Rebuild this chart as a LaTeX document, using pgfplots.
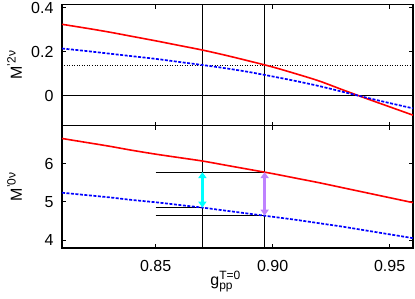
\documentclass[border=0pt]{standalone}
\usepackage{fontspec}
\setmainfont{Liberation Sans}
\usepackage{pgfplots}
\pgfplotsset{compat=1.18}
\usetikzlibrary{arrows.meta}
\definecolor{myviolet}{RGB}{190,130,255}
\definecolor{mycyan}{RGB}{0,255,255}

\pgfplotstableread{
x     r2     b2     r0    b0
0.81  0.325  0.215  6.66  5.24
0.82  0.308  0.204  6.56  5.18
0.83  0.290  0.192  6.46  5.12
0.84  0.270  0.180  6.35  5.05
0.85  0.250  0.168  6.25  4.99
0.86  0.229  0.154  6.16  4.92
0.87  0.208  0.140  6.07  4.85
0.88  0.184  0.125  5.96  4.77
0.89  0.158  0.108  5.85  4.69
0.90  0.131  0.088  5.74  4.61
0.91  0.100  0.067  5.62  4.53
0.92  0.067  0.044  5.50  4.44
0.93  0.027  0.018  5.37  4.35
0.94  -0.012 -0.008 5.24  4.25
0.95  -0.050 -0.033 5.11  4.15
0.96  -0.088 -0.057 4.98  4.05
}\datatable

\pgfplotsset{
 myaxis/.style={
  scale only axis, width=351pt, xmin=0.81, xmax=0.96,
  xtick={0.85,0.9,0.95},
  axis line style={line width=1.6pt},
  major tick style={line width=1pt, black},
  major tick length=4pt,
  tick align=inside,
  xtick pos=both, ytick pos=both,
  no markers,
  /pgf/number format/assume math mode=true,
  tick label style={font=\fontsize{16}{19}\selectfont},
  label style={font=\fontsize{16}{19}\selectfont},
  yticklabel style={xshift=-5pt},
 },
 red line/.style={color=red, line width=1.6pt, smooth},
 blue line/.style={color=blue, line width=1.7pt, smooth, dash pattern=on 3pt off 1.5pt},
 thin line/.style={black, line width=1.1pt},
}

\begin{document}
\begin{tikzpicture}
\path[use as bounding box] (0pt,0pt) rectangle (415pt,298pt);
\begin{axis}[myaxis, at={(62pt,172.5pt)}, anchor=south west, height=121pt,
  ymin=-0.135, ymax=0.415, ytick={0,0.2,0.4}, xticklabels={\mbox{},\mbox{},\mbox{}},
  ylabel={M\textsuperscript{\fontsize{12}{12}\selectfont '2ν}},
  ylabel style={at={(axis description cs:-0.114,0.5)}, anchor=base}]
\addplot[thin line] coordinates {(0.81,0) (0.96,0)};
\addplot[black, line width=1pt, dash pattern=on 1pt off 1.5pt] coordinates {(0.81,0.136) (0.96,0.136)};
\addplot[thin line] coordinates {(0.87,-0.2) (0.87,0.5)};
\addplot[thin line] coordinates {(0.8966,-0.2) (0.8966,0.5)};
\addplot[red line] table[x=x,y=r2] {\datatable};
\addplot[blue line] table[x=x,y=b2] {\datatable};
\end{axis}
\begin{axis}[myaxis, at={(62pt,50.3pt)}, anchor=south west, height=122.2pt,
  ymin=3.8, ymax=7.0, ytick={4,5,6},
  xticklabel style={anchor=base, yshift=-23.7pt, /pgf/number format/fixed, /pgf/number format/fixed zerofill, /pgf/number format/precision=2},
  ylabel={M\textsuperscript{\fontsize{12}{12}\selectfont '0ν}},
  ylabel style={at={(axis description cs:-0.114,0.5)}, anchor=base},
  xlabel={g$_{\mbox{\fontsize{12}{12}\selectfont pp}}^{\mbox{\fontsize{12}{12}\selectfont T=0}}$},
  xlabel style={at={(axis description cs:0.466,0)}, anchor=base, yshift=-38pt}]
\addplot[thin line] coordinates {(0.87,3) (0.87,8)};
\addplot[thin line] coordinates {(0.8966,3) (0.8966,8)};
\addplot[thin line] coordinates {(0.85,5.78) (0.8966,5.78)};
\addplot[thin line] coordinates {(0.85,4.85) (0.87,4.85)};
\addplot[thin line] coordinates {(0.85,4.64) (0.8966,4.64)};
\addplot[red line] table[x=x,y=r0] {\datatable};
\addplot[blue line] table[x=x,y=b0] {\datatable};
\addplot[mycyan, line width=3.5pt, {Triangle[length=6pt,width=8pt]}-{Triangle[length=6pt,width=8pt]}] coordinates {(0.87,5.78) (0.87,4.85)};
\addplot[myviolet, line width=3.5pt, {Triangle[length=6pt,width=8pt]}-{Triangle[length=6pt,width=8pt]}] coordinates {(0.8966,5.78) (0.8966,4.64)};
\end{axis}
\end{tikzpicture}
\end{document}
